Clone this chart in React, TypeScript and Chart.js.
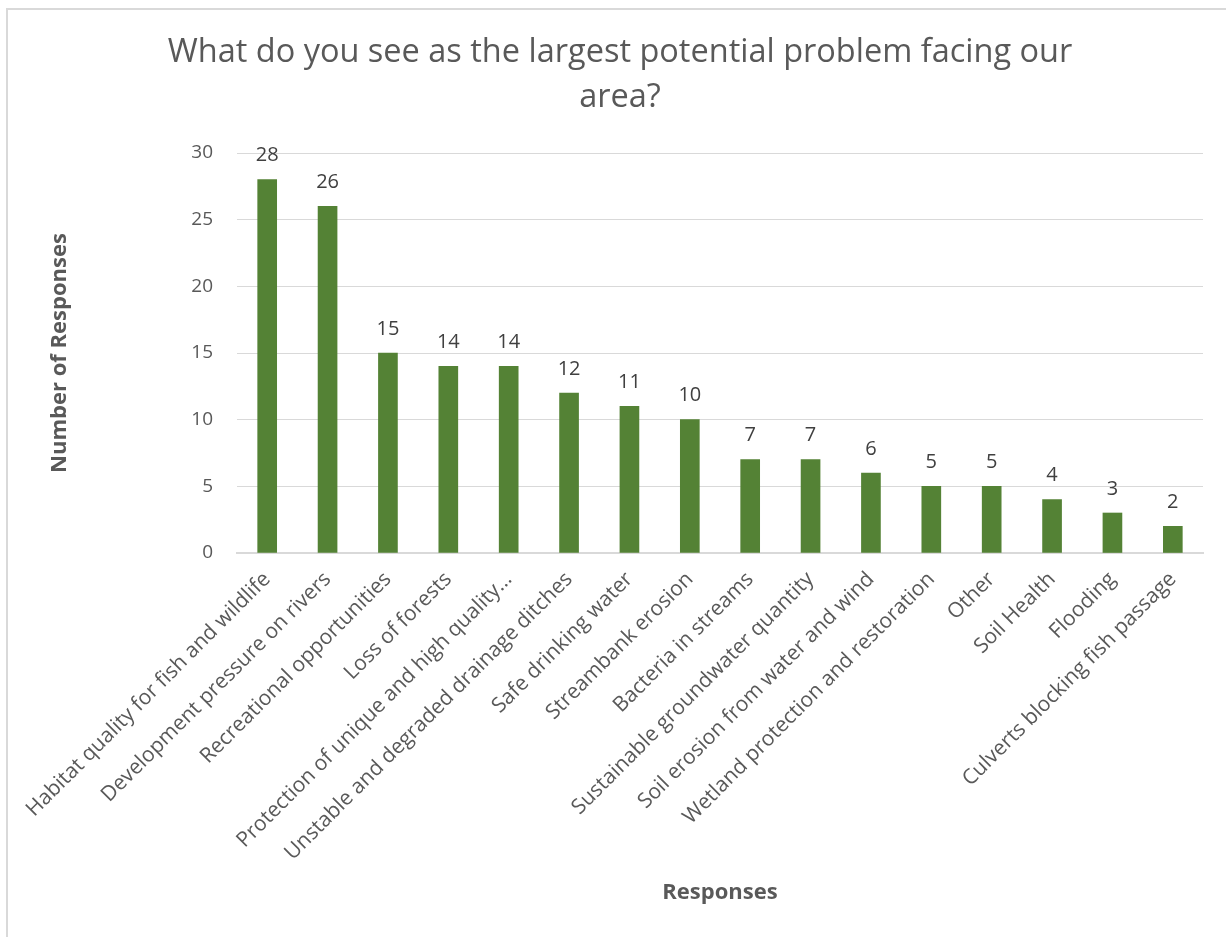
import React, { useEffect, useRef } from "react";
import { Chart, registerables } from "chart.js";

Chart.register(...registerables);

const categories = [
  "Habitat quality for fish and wildlife",
  "Development pressure on rivers",
  "Recreational opportunities",
  "Loss of forests",
  "Protection of unique and high quality…",
  "Unstable and degraded drainage ditches",
  "Safe drinking water",
  "Streambank erosion",
  "Bacteria in streams",
  "Sustainable groundwater quantity",
  "Soil erosion from water and wind",
  "Wetland protection and restoration",
  "Other",
  "Soil Health",
  "Flooding",
  "Culverts blocking fish passage",
];
const responses = [28, 26, 15, 14, 14, 12, 11, 10, 7, 7, 6, 5, 5, 4, 3, 2];
const yTicks = [0, 5, 10, 15, 20, 25, 30];
const titleLines = [
  "What do you see as the largest potential problem facing our",
  "area?",
];

const FONT = "'Open Sans', 'DejaVu Sans', sans-serif";

const valueLabels = {
  id: "valueLabels",
  afterDatasetsDraw(chart: any) {
    const ctx = chart.ctx;
    const meta = chart.getDatasetMeta(0);
    ctx.save();
    ctx.font = `20px ${FONT}`;
    ctx.fillStyle = "#404040";
    ctx.textAlign = "center";
    ctx.textBaseline = "middle";
    meta.data.forEach((bar: any, i: number) => {
      ctx.fillText(String(responses[i]), bar.x, bar.y - 24);
    });
    ctx.restore();
  },
};

export default function App() {
  const ref = useRef<HTMLCanvasElement>(null);
  useEffect(() => {
    if (!ref.current) return;
    const chart = new Chart(ref.current, {
      type: "bar",
      data: {
        labels: categories,
        datasets: [
          {
            data: responses,
            backgroundColor: "#548235",
            borderWidth: 0,
            barThickness: 19,
          },
        ],
      },
      plugins: [valueLabels],
      options: {
        animation: false,
        responsive: false,
        maintainAspectRatio: false,
        layout: { padding: { left: 37, right: 23, top: 0, bottom: 0 } },
        plugins: {
          legend: { display: false },
          tooltip: { enabled: false },
          title: {
            display: true,
            text: titleLines,
            color: "#595959",
            font: { family: FONT, size: 32.5, weight: "normal", lineHeight: 1.385 },
            padding: { top: 30, bottom: 33 },
          },
        },
        scales: {
          x: {
            grid: { display: false, drawTicks: false },
            border: { display: true, color: "#d9d9d9", width: 2 },
            ticks: {
              color: "#595959",
              font: { family: FONT, size: 21 },
              minRotation: 45,
              maxRotation: 45,
              autoSkip: false,
              padding: 14,
            },
            title: {
              display: true,
              text: "Responses",
              color: "#595959",
              font: { family: FONT, size: 22, weight: "bold" },
              padding: { top: 0, bottom: 31 },
            },
            afterFit: (s: any) => {
              s.height = 384;
            },
          },
          y: {
            min: 0,
            max: 30,
            afterBuildTicks: (s: any) => {
              s.ticks = yTicks.map((v) => ({ value: v }));
            },
            grid: { color: "#d9d9d9", lineWidth: 1, drawTicks: false },
            border: { display: false },
            ticks: {
              color: "#595959",
              font: { family: FONT, size: 19 },
              padding: 24,
            },
            title: {
              display: true,
              text: "Number of Responses",
              color: "#595959",
              font: { family: FONT, size: 22, weight: "bold" },
              padding: { top: 10, bottom: 0 },
            },
            afterFit: (s: any) => {
              s.width = 200;
            },
          },
        },
      },
    });
    return () => chart.destroy();
  }, []);

  return (
    <div
      style={{
        position: "fixed",
        left: 0,
        top: 0,
        width: 1226,
        height: 937,
        overflow: "hidden",
        background: "#ffffff",
      }}
    >
      <div
        style={{
          position: "absolute",
          left: 6,
          top: 8,
          width: 1300,
          height: 1000,
          border: "2px solid #d9d9d9",
          boxSizing: "border-box",
        }}
      />
      <canvas
        ref={ref}
        width={1226}
        height={937}
        style={{ position: "absolute", left: 0, top: 0, width: 1226, height: 937 }}
      />
    </div>
  );
}
